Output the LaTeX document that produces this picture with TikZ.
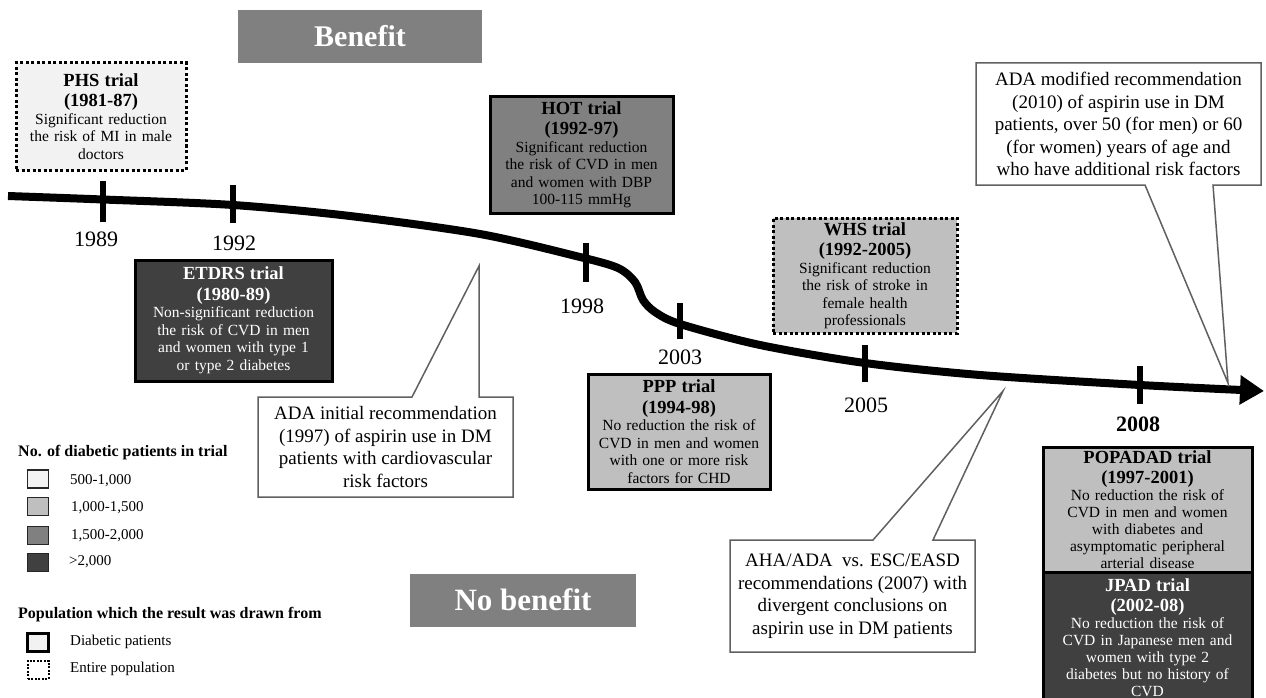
\documentclass[tikz,border=0pt]{standalone}
\usepackage{fontspec}
\setmainfont{Liberation Serif}
\usetikzlibrary{arrows.meta}
\definecolor{lightfill}{HTML}{F2F2F2}
\definecolor{midfill}{HTML}{BFBFBF}
\definecolor{grayfill}{HTML}{808080}
\definecolor{darkfill}{HTML}{404040}
\definecolor{callline}{HTML}{606060}
\newcommand{\tbody}{\fontsize{15.5}{17.5}\selectfont}
\newcommand{\ttitle}{\fontsize{18.5}{20.5}\selectfont\bfseries}
\newcommand{\cfont}{\fontsize{19}{22.5}\selectfont}
\begin{document}
\begin{tikzpicture}[x=1pt,y=-1pt,
 trial/.style={draw=black, line width=3pt, align=center, inner sep=0pt, font=\tbody},
 popbox/.style={trial, dash pattern=on 3pt off 2.5pt},
 callout/.style={draw=callline, line width=1.5pt, fill=white, line join=miter},
 calltext/.style={align=center, font=\cfont, inner sep=0pt},
 year/.style={font=\fontsize{22}{24}\selectfont, inner sep=0pt},
 tickmark/.style={line width=6pt},
 banner/.style={fill=grayfill, text=white, inner sep=0pt},
 legtitle/.style={anchor=west, font=\fontsize{16}{18}\selectfont\bfseries, inner sep=0pt},
 leglabel/.style={anchor=west, font=\fontsize{15}{17}\selectfont, inner sep=0pt},
 swatch/.style={draw=black!85, line width=1.5pt, minimum width=21pt, minimum height=18pt, inner sep=0pt}
]
\useasboundingbox (0,0) rectangle (1266,698);
\fill[white] (0,0) rectangle (1266,698);

% banners
\node[banner, minimum width=244pt, minimum height=53pt, font=\fontsize{30}{32}\selectfont\bfseries] (benefit) at (360,36.5) {Benefit};
\node[banner, minimum width=226pt, minimum height=53pt, font=\fontsize{31}{33}\selectfont\bfseries] (nobenefit) at (523,600) {No benefit};

% timeline
\draw[line width=8pt, -{Triangle[length=24pt,width=28pt]}] plot[smooth, tension=0.5] coordinates {(8,196) (103,199.5) (233,205) (350,216) (480,234) (580,257) (618,268) (635,282) (643,300) (655,312) (680,324) (760,345) (865,363) (980,375) (1140,385) (1264,391)};

% ticks
\draw[tickmark] (103,181) -- (103,222);
\draw[tickmark] (233,185) -- (233,223);
\draw[tickmark] (586,243) -- (586,282);
\draw[tickmark] (680,303) -- (680,339);
\draw[tickmark] (865,345) -- (865,382);
\draw[tickmark] (1140,366) -- (1140,404);

% years
\node[year] (y1989) at (96,239) {1989};
\node[year] (y1992) at (234,243) {1992};
\node[year] (y1998) at (582,306) {1998};
\node[year] (y2003) at (680,357) {2003};
\node[year] (y2005) at (866,405) {2005};
\node[year, font=\fontsize{22}{24}\selectfont\bfseries] (y2008) at (1138,424) {2008};

% trial boxes
\node[popbox, fill=lightfill, minimum width=170pt, minimum height=107pt, text width=164pt] (phs) at (101,116.5)
 {{\ttitle PHS trial\\(1981-87)\par}Significant reduction\\the risk of MI in male\\doctors};
\node[trial, fill=grayfill, minimum width=183pt, minimum height=116pt, text width=177pt] (hot) at (581.5,155)
 {{\ttitle HOT trial\\(1992-97)\par}Significant reduction\\the risk of CVD in men\\and women with DBP\\100-115 mmHg};
\node[trial, fill=darkfill, text=white, minimum width=197pt, minimum height=121pt, text width=191pt] (etdrs) at (233.5,320.5)
 {{\ttitle ETDRS trial\\(1980-89)\par}Non-significant reduction\\the risk of CVD in men\\and women with type 1\\or type 2 diabetes};
\node[popbox, fill=midfill, minimum width=184pt, minimum height=115pt, text width=178pt] (whs) at (865,275.5)
 {{\ttitle WHS trial\\(1992-2005)\par}Significant reduction\\the risk of stroke in\\female health\\professionals};
\node[trial, fill=midfill, minimum width=182pt, minimum height=115pt, text width=176pt] (ppp) at (679,431.5)
 {{\ttitle PPP trial\\(1994-98)\par}No reduction the risk of\\CVD in men and women\\with one or more risk\\factors for CHD};
\node[trial, fill=midfill, minimum width=209pt, minimum height=125pt, text width=203pt, font=\fontsize{15.5}{17}\selectfont] (popadad) at (1147.5,509.5)
 {{\fontsize{18.5}{19.5}\selectfont\bfseries POPADAD trial\\(1997-2001)\par}No reduction the risk of\\CVD in men and women\\with diabetes and\\asymptomatic peripheral\\arterial disease};
\node[trial, fill=darkfill, text=white, minimum width=209pt, minimum height=131pt, text width=203pt, font=\fontsize{15.5}{17}\selectfont] (jpad) at (1147.5,637.5)
 {{\fontsize{18.5}{19.5}\selectfont\bfseries JPAD trial\\(2002-08)\par}No reduction the risk of\\CVD in Japanese men and\\women with type 2\\diabetes but no history of\\CVD};

% callouts
\coordinate (tip2010) at (1228,383);
\coordinate (tip1997) at (479,266);
\coordinate (tip2007) at (1003,391);
\draw[callout] (976,63) -- (1261,63) -- (1261,185) -- (1213,185) -- (tip2010) -- (1145,185) -- (976,185) -- cycle;
\node[calltext] (ada2010) at (1118.5,124) {ADA modified recommendation\\(2010) of aspirin use in DM\\patients, over 50 (for men) or 60\\(for women) years of age and\\who have additional risk factors};
\draw[callout] (258,397) -- (412,397) -- (tip1997) -- (479,397) -- (513,397) -- (513,497) -- (258,497) -- cycle;
\node[calltext] (ada1997) at (385.5,447) {ADA initial recommendation\\(1997) of aspirin use in DM\\patients with cardiovascular\\risk factors};
\draw[callout] (730,540) -- (873,540) -- (tip2007) -- (933,540) -- (975,540) -- (975,652) -- (730,652) -- cycle;
\node[calltext] (aha) at (852.5,596) {AHA/ADA \ vs. ESC/EASD\\recommendations (2007) with\\divergent conclusions on\\aspirin use in DM patients};

% legend
\node[legtitle] (lt1) at (18,453) {No. of diabetic patients in trial};
\node[swatch, fill=lightfill] (s1) at (38,479) {};
\node[swatch, fill=midfill] (s2) at (38,506.5) {};
\node[swatch, fill=grayfill] (s3) at (38,535.5) {};
\node[swatch, fill=darkfill] (s4) at (38,562.5) {};
\node[leglabel] (l1) at (70,481) {500-1,000};
\node[leglabel] (l2) at (71,508) {1,000-1,500};
\node[leglabel] (l3) at (71,536) {1,500-2,000};
\node[leglabel] (l4) at (69,562) {>2,000};
\node[legtitle] (lt2) at (18,615) {Population which the result was drawn from};
\node[swatch, draw=black, line width=2.5pt, fill=lightfill] (s5) at (38,642.5) {};
\node[swatch, draw=black, line width=2pt, dash pattern=on 2pt off 1.5pt, fill=white] (s6) at (38,669.5) {};
\node[leglabel] (l5) at (70,642) {Diabetic patients};
\node[leglabel] (l6) at (70,669) {Entire population};
\end{tikzpicture}
\end{document}
